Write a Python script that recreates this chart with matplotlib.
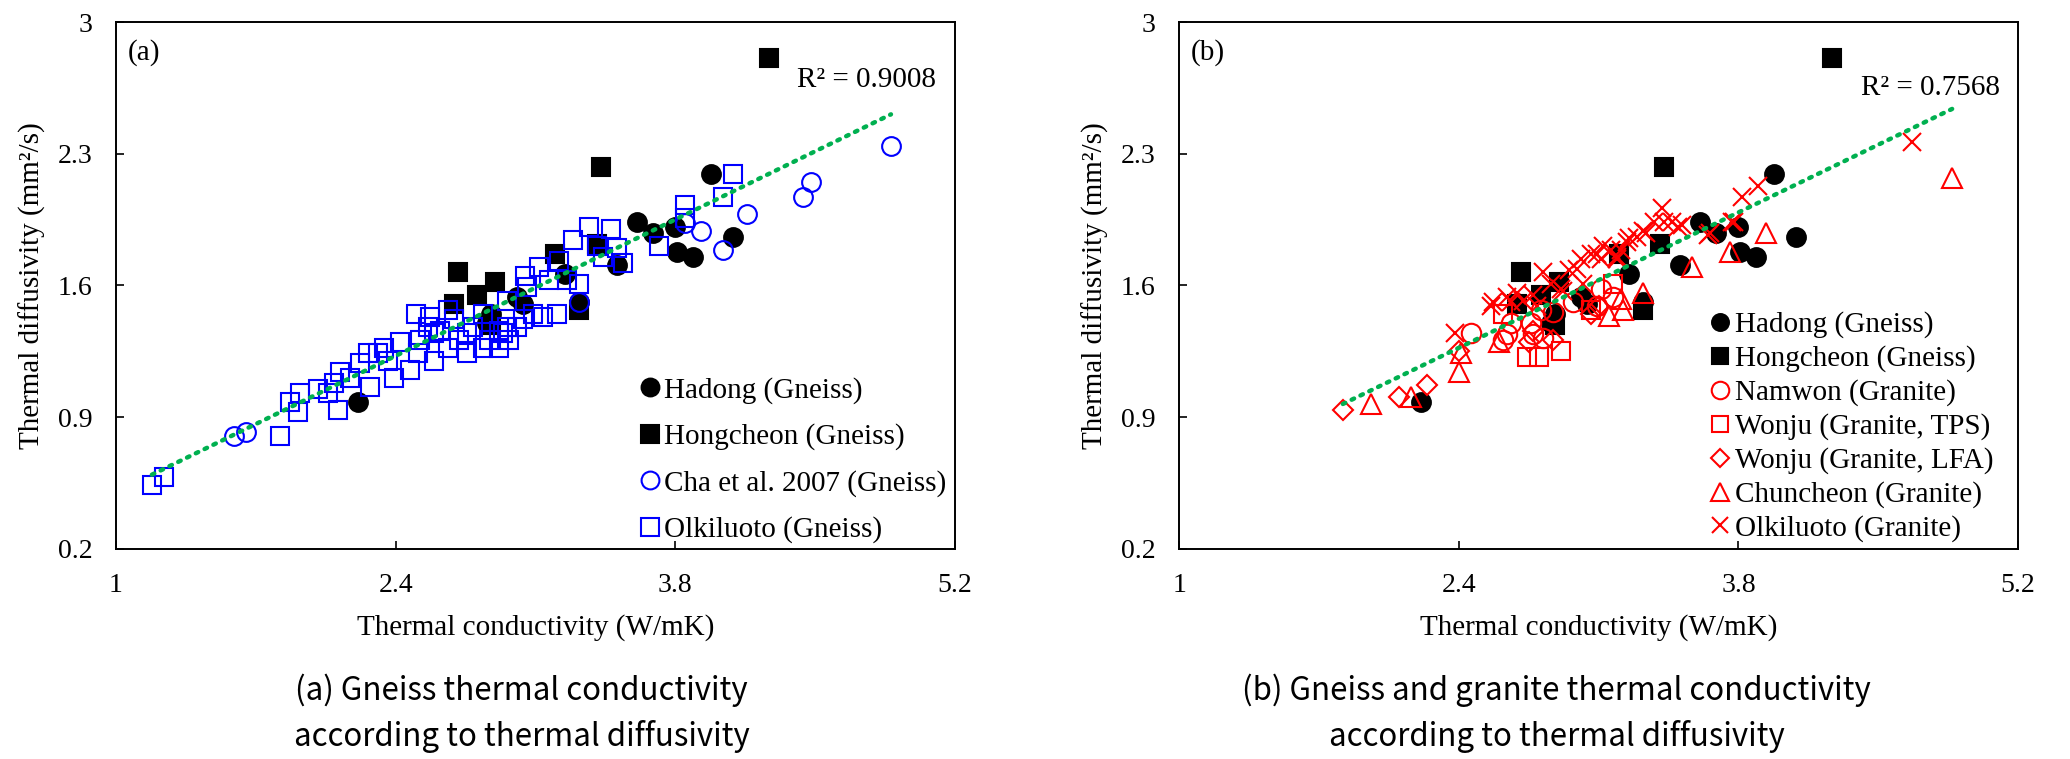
"""
Thermal diffusivity vs thermal conductivity (gneiss / granite)
"""

import numpy as np
import matplotlib
matplotlib.use("Agg")
from matplotlib import pyplot as plt
from matplotlib.ticker import FuncFormatter

# ---- data ----
# shared by both panels
hadong_x = [2.21, 2.86, 2.88, 3.01, 3.04, 3.25, 3.32, 3.51, 3.61, 3.69, 3.80, 3.81, 3.89, 3.98, 4.09]
hadong_y = [0.98, 1.40, 1.45, 1.54, 1.50, 1.66, 1.51, 1.71, 1.94, 1.88, 1.91, 1.78, 1.75, 2.19, 1.86]

hong_x = [2.69, 2.71, 2.81, 2.88, 2.90, 3.20, 3.32, 3.41, 3.43, 4.27]
hong_y = [1.50, 1.67, 1.55, 1.39, 1.62, 1.77, 1.47, 1.82, 2.23, 2.81]

# panel (a)
cha_x = [1.59, 1.65, 3.32, 3.85, 3.93, 4.04, 4.16, 4.44, 4.48, 4.88]
cha_y = [0.80, 0.82, 1.51, 1.93, 1.89, 1.79, 1.98, 2.07, 2.15, 2.34]

olk_gneiss_x = [1.18, 1.24, 1.82, 1.87, 1.91, 1.92, 2.01, 2.11, 2.09, 2.17, 2.22, 2.27, 2.31, 2.36,
                2.39, 2.42, 2.47, 2.51, 2.56, 2.59, 2.62, 2.66, 2.69, 2.72, 2.76, 2.79, 2.84, 2.87,
                2.92, 2.96, 3.01, 3.06, 3.09, 3.14, 3.21, 3.12, 3.17, 3.26, 3.32, 3.29, 3.37, 3.48,
                3.41, 3.51, 3.44, 3.54, 3.22, 3.05, 3.04, 2.96, 2.94, 3.72, 3.85, 3.85, 4.04, 4.09,
                2.50, 2.57, 2.66, 2.59, 2.52, 2.34, 2.26, 2.12, 2.06, 2.84, 2.92, 2.97, 2.76]
olk_gneiss_y = [0.54, 0.58, 0.80, 0.98, 0.93, 1.03, 1.05, 0.94, 1.08, 1.11, 1.19, 1.06, 1.24, 1.20,
                1.11, 1.30, 1.15, 1.24, 1.38, 1.20, 1.36, 1.27, 1.42, 1.31, 1.24, 1.38, 1.45, 1.31,
                1.36, 1.52, 1.38, 1.59, 1.45, 1.43, 1.45, 1.70, 1.63, 1.63, 1.61, 1.84, 1.91, 1.90,
                1.81, 1.80, 1.75, 1.72, 1.73, 1.65, 1.42, 1.38, 1.35, 1.81, 2.03, 1.96, 2.07, 2.19,
                1.45, 1.43, 1.47, 1.35, 1.31, 1.27, 1.24, 1.14, 1.03, 1.27, 1.27, 1.31, 1.35]

# panel (b)
namwon_x = [2.46, 2.62, 2.64, 2.66, 2.76, 2.77, 2.81, 2.82, 2.87, 2.97, 3.09, 3.11, 3.17]
namwon_y = [1.35, 1.31, 1.34, 1.40, 1.40, 1.34, 1.47, 1.32, 1.46, 1.51, 1.49, 1.58, 1.54]

wonju_tps_x = [2.62, 2.74, 2.80, 2.91, 3.06, 3.17]
wonju_tps_y = [1.45, 1.22, 1.22, 1.25, 1.47, 1.61]

wonju_lfa_x = [1.82, 2.10, 2.24, 2.40, 2.75, 2.77, 2.87, 3.06, 3.10]
wonju_lfa_y = [0.94, 1.01, 1.07, 1.25, 1.30, 1.36, 1.31, 1.45, 1.49]

chun_x = [1.96, 2.16, 2.40, 2.41, 2.60, 3.15, 3.21, 3.22, 3.32, 3.57, 3.76, 3.94, 4.87]
chun_y = [0.97, 1.01, 1.14, 1.24, 1.30, 1.44, 1.53, 1.47, 1.56, 1.70, 1.78, 1.88, 2.17]

olk_granite_x = [2.38, 2.56, 2.57, 2.64, 2.66, 2.69, 2.72, 2.77, 2.79, 2.82, 2.86, 2.91, 2.92, 2.95,
                 2.99, 3.01, 3.02, 3.06, 3.09, 3.11, 3.12, 3.16, 3.19, 3.19, 3.21, 3.24, 3.25, 3.29,
                 3.32, 3.34, 3.38, 3.42, 3.43, 3.47, 3.50, 3.52, 3.65, 3.66, 3.77, 3.78, 3.82, 3.90, 4.67]
olk_granite_y = [1.35, 1.49, 1.51, 1.54, 1.51, 1.56, 1.52, 1.55, 1.49, 1.67, 1.61, 1.58, 1.57, 1.68,
                 1.69, 1.74, 1.61, 1.77, 1.77, 1.74, 1.81, 1.79, 1.74, 1.75, 1.79, 1.83, 1.85, 1.86,
                 1.89, 1.88, 1.94, 2.01, 1.94, 1.94, 1.91, 1.92, 1.87, 1.88, 1.94, 1.94, 2.07, 2.13, 2.36]

# linear trend lines (slope, intercept) and R^2 as printed
trend_a = (0.5175, -0.016)
trend_b = (0.514, 0.035)
r2_a = 0.9008
r2_b = 0.7568

x_ticks = [1, 2.4, 3.8, 5.2]
y_ticks = [0.2, 0.9, 1.6, 2.3, 3.0]

captions = ["(a) Gneiss thermal conductivity\naccording to thermal diffusivity",
            "(b) Gneiss and granite thermal conductivity\naccording to thermal diffusivity"]

plt.rcParams['font.family'] = ['Liberation Serif', 'DejaVu Serif']

BLUE = '#0000FF'
RED = '#FF0000'
GREEN = '#00B050'
FS = 21


def style_axes(ax, tag, r2, r2_y):
    ax.set_xlim(x_ticks[0], x_ticks[-1])
    ax.set_ylim(y_ticks[0], y_ticks[-1])
    ax.set_xticks(x_ticks)
    ax.set_yticks(y_ticks)
    fmt = FuncFormatter(lambda v, p: f"{v:g}")
    ax.xaxis.set_major_formatter(fmt)
    ax.yaxis.set_major_formatter(fmt)
    ax.tick_params(direction='in', length=6, width=1.2, labelsize=20, pad=17)
    for s in ax.spines.values():
        s.set_linewidth(1.4)
    ax.set_xlabel("Thermal conductivity (W/mK)", fontsize=FS)
    ax.set_ylabel("Thermal diffusivity (mm\u00b2/s)", fontsize=FS)
    ax.xaxis.set_label_coords(0.5, -0.123)
    ax.yaxis.set_label_coords(-0.083, 0.5)
    ax.text(0.014, 0.943, tag, transform=ax.transAxes, fontsize=FS, va='center', ha='left')
    ax.text(0.978, r2_y, f"R\u00b2 = {r2:.4f}", transform=ax.transAxes,
            fontsize=FS, va='center', ha='right')


def trend(ax, xs, coef):
    xs = np.concatenate(xs)
    xx = np.array([xs.min(), xs.max()])
    ax.plot(xx, coef[0] * xx + coef[1], color=GREEN, lw=3.2,
            linestyle=(0, (0.6, 1.6)), dash_capstyle='round', zorder=5)


fig = plt.figure(figsize=(20.7, 7.59), dpi=100)
ax1 = fig.add_axes([0.0560, 0.2767, 0.4053, 0.6943])
ax2 = fig.add_axes([0.5696, 0.2767, 0.4053, 0.6943])

mk = dict(linestyle='none', markeredgewidth=1.5)

# 패널 (a)
ax1.plot(hadong_x, hadong_y, 'o', ms=13.5, color='black', label='Hadong (Gneiss)', **mk)
ax1.plot(hong_x, hong_y, 's', ms=13.5, color='black', label='Hongcheon (Gneiss)', **mk)
ax1.plot(cha_x, cha_y, 'o', ms=13.5, mfc='none', mec=BLUE, label='Cha et al. 2007 (Gneiss)', **mk)
ax1.plot(olk_gneiss_x, olk_gneiss_y, 's', ms=13.5, mfc='none', mec=BLUE,
         label='Olkiluoto (Gneiss)', **mk)
trend(ax1, [hadong_x, hong_x, cha_x, olk_gneiss_x], trend_a)
style_axes(ax1, "(a)", r2_a, 0.89)
ax1.legend(loc='lower left', bbox_to_anchor=(0.603, -0.022), frameon=False, fontsize=FS,
           handlelength=0.7, handletextpad=0.15, labelspacing=0.67, borderpad=0.1, markerscale=0.95)

# 패널 (b)
ax2.plot(hadong_x, hadong_y, 'o', ms=13.5, color='black', label='Hadong (Gneiss)', **mk)
ax2.plot(hong_x, hong_y, 's', ms=13.5, color='black', label='Hongcheon (Gneiss)', **mk)
ax2.plot(namwon_x, namwon_y, 'o', ms=14, mfc='none', mec=RED, label='Namwon (Granite)', **mk)
ax2.plot(wonju_tps_x, wonju_tps_y, 's', ms=13.5, mfc='none', mec=RED,
         label='Wonju (Granite, TPS)', **mk)
ax2.plot(wonju_lfa_x, wonju_lfa_y, 'D', ms=10, mfc='none', mec=RED,
         label='Wonju (Granite, LFA)', **mk)
ax2.plot(chun_x, chun_y, '^', ms=14, mfc='none', mec=RED, label='Chuncheon (Granite)', **mk)
ax2.plot(olk_granite_x, olk_granite_y, 'x', ms=12.5, color=RED, label='Olkiluoto (Granite)', **mk)
trend(ax2, [hadong_x, hong_x, namwon_x, wonju_tps_x, wonju_lfa_x, chun_x, olk_granite_x], trend_b)
style_axes(ax2, "(b)", r2_b, 0.875)
ax2.legend(loc='lower left', bbox_to_anchor=(0.612, -0.02), frameon=False, fontsize=FS,
           handlelength=0.7, handletextpad=0.15, labelspacing=0.24, borderpad=0.1, markerscale=0.9)

# 캡션
for cx, cap in zip([0.252, 0.752], captions):
    line1, line2 = cap.split("\n")
    fig.text(cx, 0.091, line1, ha='center', va='center', fontsize=22.5,
             family=['Noto Sans CJK KR', 'DejaVu Sans'])
    fig.text(cx, 0.030, line2, ha='center', va='center', fontsize=22.5,
             family=['Noto Sans CJK KR', 'DejaVu Sans'])

fig.savefig("out.png", dpi=100)
